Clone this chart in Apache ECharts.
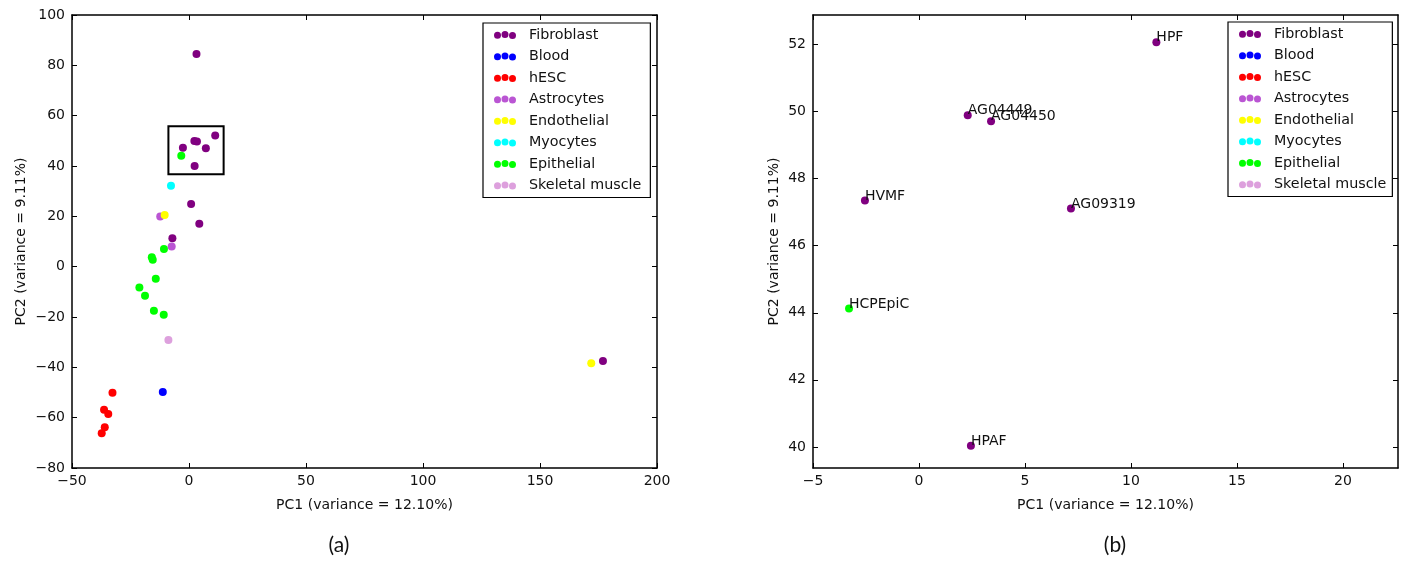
<!DOCTYPE html>
<html>
<head>
<meta charset="utf-8">
<script src="https://cdn.jsdelivr.net/npm/echarts@6/dist/echarts.min.js"></script>
<style>
  html, body { margin: 0; padding: 0; background: #fff; }
  #chart { width: 1408px; height: 561px; }
</style>
</head>
<body>
<div id="chart"></div>
<script>
/*** data ***/
var groups = ['Fibroblast', 'Blood', 'hESC', 'Astrocytes', 'Endothelial', 'Myocytes', 'Epithelial', 'Skeletal muscle'];
var groupColors = ['#800080', '#0000ff', '#ff0000', '#ba55d3', '#ffff00', '#00ffff', '#00ff00', '#dda0dd'];

// (a) full PCA, one list of [PC1, PC2] per group
var fibroblastPts = [[11.2, 52.1], [2.3, 49.9], [3.4, 49.7], [-2.6, 47.3], [7.2, 47.1], [2.4, 40.0],
                     [3.2, 84.5], [0.9, 24.9], [4.4, 17.1], [-7.1, 11.3], [176.9, -37.5]];
var bloodPts = [[-11.2, -49.8]];
var hescPts = [[-32.7, -50.1], [-36.3, -56.9], [-34.5, -58.5], [-36.0, -63.8], [-37.3, -66.2]];
var astrocytePts = [[-12.3, 19.9], [-7.4, 8.0]];
var endothelialPts = [[-10.4, 20.5], [171.9, -38.4]];
var myocytePts = [[-7.7, 32.2]];
var epithelialPts = [[-3.3, 44.1], [-10.7, 7.0], [-15.9, 3.7], [-15.5, 2.7], [-14.2, -4.8],
                     [-21.2, -8.3], [-18.8, -11.6], [-15.0, -17.5], [-10.8, -19.1]];
var skeletalPts = [[-8.8, -29.1]];

// zoomed region marked on (a): [x0, x1, y0, y1]
var zoomBox = [-8.8, 14.8, 36.7, 55.8];

// (b) zoom, labelled samples
var zoomFibroNames = ['HPF', 'AG04449', 'AG04450', 'HVMF', 'AG09319', 'HPAF'];
var zoomFibroPts = [[11.2, 52.07], [2.3, 49.89], [3.4, 49.71], [-2.55, 47.35], [7.17, 47.11], [2.45, 40.03]];
var zoomEpiNames = ['HCPEpiC'];
var zoomEpiPts = [[-3.3, 44.13]];

// tick labels
var aXTicks = [-50, 0, 50, 100, 150, 200];
var aYTicks = [-80, -60, -40, -20, 0, 20, 40, 60, 80, 100];
var bXTicks = [-5, 0, 5, 10, 15, 20];
var bYTicks = [40, 42, 44, 46, 48, 50, 52];

var FONT = 'DejaVu Sans';
var threeDots = 'path://M0,4.3a3.5,3.5 0 1,0 7,0a3.5,3.5 0 1,0 -7,0Z' +
                'M7.5,3.6a3.5,3.5 0 1,0 7,0a3.5,3.5 0 1,0 -7,0Z' +
                'M15,4.5a3.5,3.5 0 1,0 7,0a3.5,3.5 0 1,0 -7,0Z';

function minus(v) { return String(v).replace('-', '\u2212'); }

/*** axes helpers ***/
function xAx(grid, pos, min, max, ticks, name) {
    var main = pos === 'bottom';
    return {
        type: 'value', gridIndex: grid, position: pos, min: min, max: max,
        name: main ? name : '', nameLocation: 'middle', nameGap: 30,
        nameTextStyle: { fontFamily: FONT, fontSize: 14, color: '#111' },
        axisLine: { show: true, onZero: false, lineStyle: { color: '#000', width: 1.5 } },
        axisTick: { show: true, inside: true, length: 5, customValues: ticks, lineStyle: { color: '#000' } },
        axisLabel: { show: main, customValues: ticks, margin: 6, formatter: minus,
                     fontFamily: FONT, fontSize: 14, color: '#111' },
        splitLine: { show: false }
    };
}
function yAx(grid, pos, min, max, ticks, name, gap) {
    var main = pos === 'left';
    return {
        type: 'value', gridIndex: grid, position: pos, min: min, max: max,
        name: main ? name : '', nameLocation: 'middle', nameGap: gap,
        nameTextStyle: { fontFamily: FONT, fontSize: 14, color: '#111' },
        axisLine: { show: true, onZero: false, lineStyle: { color: '#000', width: 1.5 } },
        axisTick: { show: true, inside: true, length: 5, customValues: ticks, lineStyle: { color: '#000' } },
        axisLabel: { show: main, customValues: ticks, margin: 7, formatter: minus,
                     fontFamily: FONT, fontSize: 14, color: '#111' },
        splitLine: { show: false }
    };
}

function legendAt(left, top, padRight) {
    return {
        orient: 'vertical', left: left, top: top,
        data: groups, icon: threeDots,
        itemWidth: 22, itemHeight: 8, itemGap: 5.5,
        padding: [4, padRight, 4, 11],
        borderColor: '#000', borderWidth: 1.2, backgroundColor: '#fff',
        textStyle: { fontFamily: FONT, fontSize: 14.3, color: '#111', lineHeight: 16, padding: [0, 0, 0, 8] },
        selectedMode: false
    };
}

/*** series ***/
var aPts = [fibroblastPts, bloodPts, hescPts, astrocytePts, endothelialPts, myocytePts, epithelialPts, skeletalPts];
var series = [];
groups.forEach(function (g, i) {
    var s = {
        name: g, type: 'scatter', xAxisIndex: 0, yAxisIndex: 0,
        symbolSize: 8, data: aPts[i],
        itemStyle: { color: groupColors[i], opacity: 1 },
        emphasis: { disabled: true }
    };
    if (i === 0) {
        s.markArea = {
            silent: true,
            itemStyle: { color: 'rgba(0,0,0,0)', borderColor: '#000', borderWidth: 2 },
            data: [[{ coord: [zoomBox[0], zoomBox[3]] }, { coord: [zoomBox[1], zoomBox[2]] }]]
        };
    }
    series.push(s);
});

function labelled(pts, names) {
    return pts.map(function (p, k) { return { name: names[k], value: p }; });
}
groups.forEach(function (g, i) {
    var d = [];
    if (g === 'Fibroblast') d = labelled(zoomFibroPts, zoomFibroNames);
    if (g === 'Epithelial') d = labelled(zoomEpiPts, zoomEpiNames);
    series.push({
        name: g, type: 'scatter', xAxisIndex: 2, yAxisIndex: 2,
        symbolSize: 8, data: d,
        itemStyle: { color: groupColors[i], opacity: 1 },
        label: {
            show: true, position: [4, -0.5], align: 'left', verticalAlign: 'middle',
            formatter: '{b}', fontFamily: FONT, fontSize: 14, color: '#111'
        },
        labelLayout: { hideOverlap: false },
        emphasis: { disabled: true }
    });
});

var option = {
    animation: false,
    backgroundColor: '#fff',
    grid: [
        { left: 72, top: 15, width: 585, height: 453 },
        { left: 813, top: 15, width: 585, height: 453 }
    ],
    xAxis: [
        xAx(0, 'bottom', -50, 200, aXTicks, 'PC1 (variance = 12.10%)'),
        xAx(0, 'top', -50, 200, aXTicks, ''),
        xAx(1, 'bottom', -5, 22.6, bXTicks, 'PC1 (variance = 12.10%)'),
        xAx(1, 'top', -5, 22.6, bXTicks, '')
    ],
    yAxis: [
        yAx(0, 'left', -80, 100, aYTicks, 'PC2 (variance = 9.11%)', 44),
        yAx(0, 'right', -80, 100, aYTicks, '', 0),
        yAx(1, 'left', 39.37, 52.88, bYTicks, 'PC2 (variance = 9.11%)', 32),
        yAx(1, 'right', 39.37, 52.88, bYTicks, '', 0)
    ],
    legend: [legendAt(483, 23, 9), legendAt(1228, 22, 6)],
    title: [
        { text: '(a)', left: 334, top: 530, textAlign: 'center',
          textStyle: { fontFamily: 'Lato', fontSize: 21, fontWeight: 'normal', color: '#111' } },
        { text: '(b)', left: 1110, top: 530, textAlign: 'center',
          textStyle: { fontFamily: 'Lato', fontSize: 21, fontWeight: 'normal', color: '#111' } }
    ],
    series: series
};

var myChart = echarts.init(document.getElementById('chart'));
myChart.setOption(option);
</script>
</body>
</html>
